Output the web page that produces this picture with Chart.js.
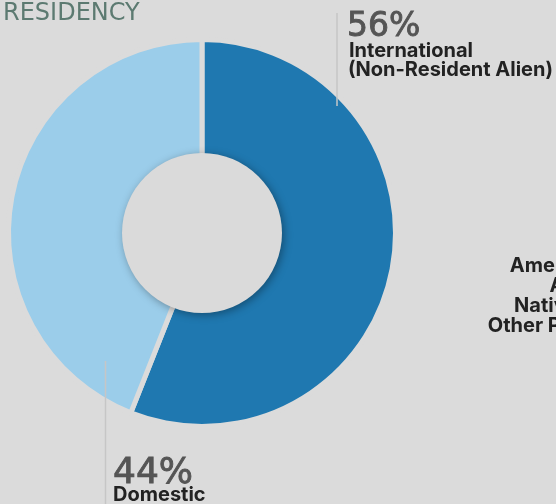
<!DOCTYPE html>
<html>
<head>
<meta charset="utf-8">
<script src="https://cdn.jsdelivr.net/npm/chart.js@4"></script>
<style>
  html, body { margin: 0; padding: 0; background: #dbdbdb; }
  #wrap { width: 556px; height: 504px; position: relative; }
</style>
</head>
<body>
<div id="wrap"><canvas id="residencyChart" width="556" height="504"></canvas></div>
<script>
// chart data
const TITLE = 'RESIDENCY';
const labels = ['International', 'Domestic'];
const subLabels = ['(Non-Resident Alien)', ''];
const values = [56, 44];
const colors = ['#1f78b0', '#9bcdea'];
// clipped label from the neighbouring chart on the right
const sideLines = ['American Indian,', 'Asian, or', 'Native Hawaiian', 'Other Pacific Islander'];

const BG = '#dbdbdb';

// draws title, leader lines, labels and the centre disc
const decorPlugin = {
  id: 'decor',
  afterDatasetsDraw(chart) {
    const ctx = chart.ctx;
    const arc = chart.getDatasetMeta(0).data[0];
    const cx = arc.x, cy = arc.y;

    // centre disc with soft shadow
    ctx.save();
    ctx.shadowColor = 'rgba(0,0,0,0.35)';
    ctx.shadowBlur = 8;
    ctx.shadowOffsetX = 2;
    ctx.shadowOffsetY = 2;
    ctx.beginPath();
    ctx.arc(cx, cy, 80, 0, Math.PI * 2);
    ctx.fillStyle = '#dadada';
    ctx.fill();
    ctx.restore();

    ctx.save();
    // title
    ctx.fillStyle = '#5c7a71';
    ctx.font = '24px "DejaVu Sans"';
    ctx.textBaseline = 'alphabetic';
    ctx.textAlign = 'left';
    ctx.fillText(TITLE, 3, 20);

    // leader lines
    ctx.strokeStyle = '#c6c6c6';
    ctx.lineWidth = 1.5;
    ctx.beginPath();
    ctx.moveTo(337, 13); ctx.lineTo(337, 106);
    ctx.moveTo(105.5, 361); ctx.lineTo(105.5, 504);
    ctx.stroke();

    // percentages, slightly heavier than regular
    ctx.fillStyle = '#555555';
    ctx.strokeStyle = '#555555';
    ctx.lineWidth = 0.9;
    ctx.font = '33px "DejaVu Sans"';
    ctx.fillText(values[0] + '%', 347, 36);
    ctx.strokeText(values[0] + '%', 347, 36);
    ctx.font = '36px "DejaVu Sans"';
    ctx.fillText(values[1] + '%', 113, 483);
    ctx.strokeText(values[1] + '%', 113, 483);

    // category labels
    ctx.fillStyle = '#222222';
    ctx.font = '700 20px Inter';
    ctx.fillText(labels[0], 349, 57);
    ctx.fillText(subLabels[0], 348, 76);
    ctx.fillText(labels[1], 113, 501);

    // side label (runs off the canvas)
    ctx.textAlign = 'center';
    sideLines.forEach((t, i) => ctx.fillText(t, 593, 272 + i * 20));
    ctx.restore();
  }
};

new Chart(document.getElementById('residencyChart'), {
  type: 'doughnut',
  data: {
    labels: labels,
    datasets: [{
      data: values,
      backgroundColor: colors,
      borderColor: BG,
      borderWidth: 5,
      hoverOffset: 0
    }]
  },
  options: {
    responsive: false,
    animation: false,
    cutout: 75,
    layout: { padding: { left: 6, top: 37, right: 158, bottom: 75 } },
    plugins: {
      legend: { display: false },
      tooltip: { enabled: false }
    }
  },
  plugins: [decorPlugin]
});
</script>
</body>
</html>
